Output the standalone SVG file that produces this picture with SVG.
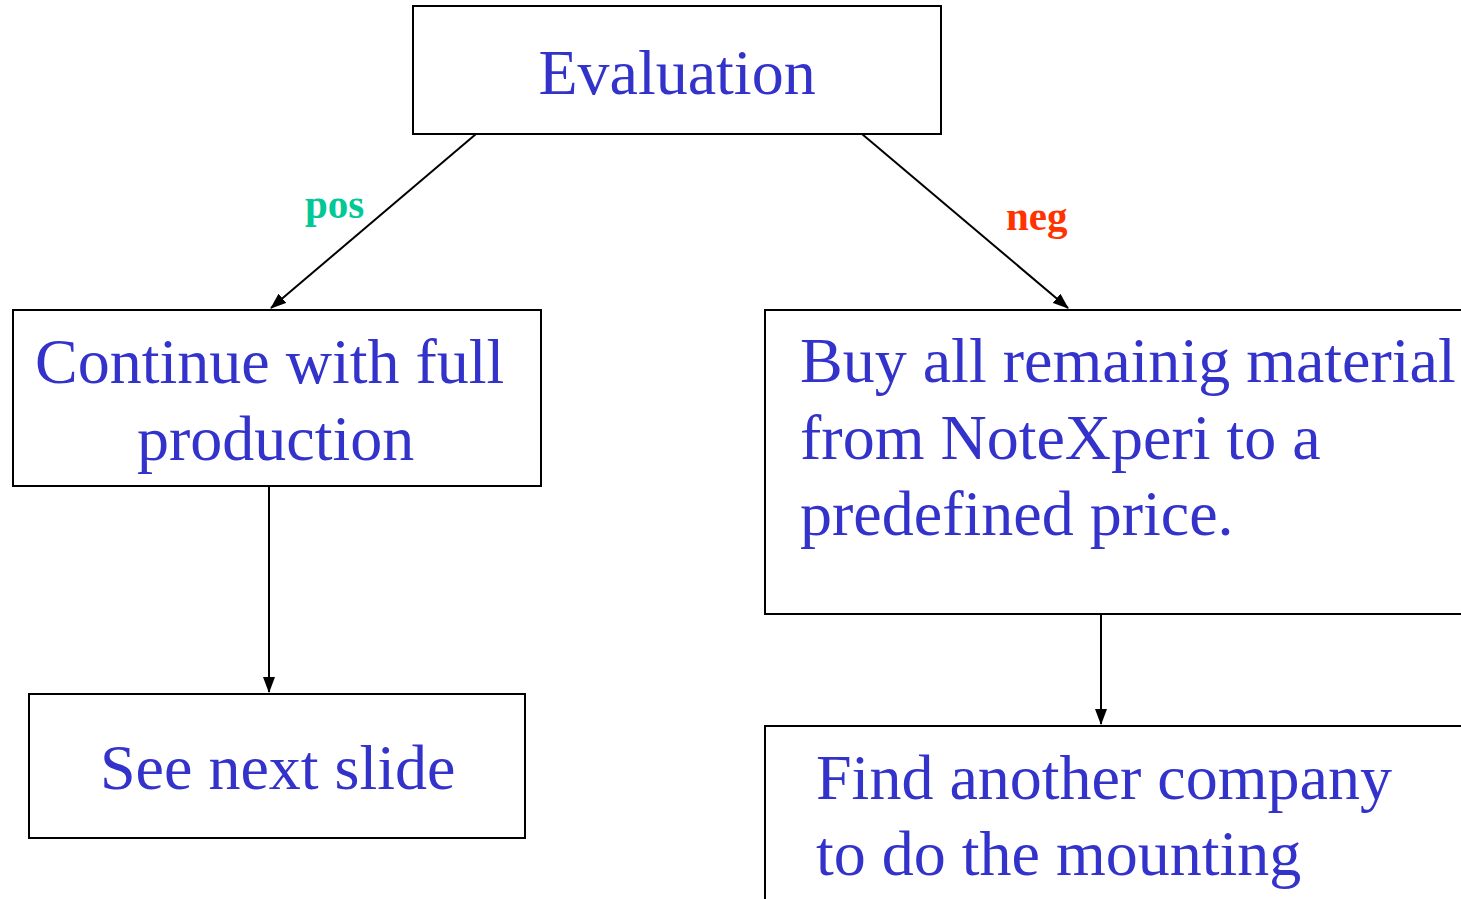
<svg xmlns="http://www.w3.org/2000/svg" width="1461" height="899" viewBox="0 0 1461 899">
<style>
.box{fill:#fff;stroke:#000;stroke-width:2}
.t{font-family:"Liberation Serif","Times New Roman",serif;font-size:64px;fill:#3333CC}
.lbl{font-family:"Liberation Serif","Times New Roman",serif;font-size:41px;font-weight:bold}
.c{stroke:#000;stroke-width:2;fill:none;marker-end:url(#ah)}
</style>
<defs>
<marker id="ah" markerWidth="16" markerHeight="12" refX="15" refY="6" orient="auto" markerUnits="userSpaceOnUse">
<path d="M0,0 L16,6 L0,12 Z" fill="#000"/>
</marker>
</defs>
<rect width="1461" height="899" fill="#fff"/>
<g id="connectors">
<line class="c" x1="476" y1="134" x2="271" y2="308"/>
<line class="c" x1="862" y1="134" x2="1068" y2="308"/>
<line class="c" x1="269" y1="486" x2="269" y2="692"/>
<line class="c" x1="1101" y1="614" x2="1101" y2="724"/>
<text class="lbl" x="305" y="218" fill="#00C896">pos</text>
<text class="lbl" x="1006" y="230" fill="#FF3300">neg</text>
</g>
<g id="evaluation">
<rect class="box" x="413" y="6" width="528" height="128"/>
<text class="t" x="677" y="94" text-anchor="middle">Evaluation</text>
</g>
<g id="continue">
<rect class="box" x="13" y="310" width="528" height="176"/>
<text class="t" x="35" y="383">Continue with full</text>
<text class="t" x="137" y="460">production</text>
</g>
<g id="seenext">
<rect class="box" x="29" y="694" width="496" height="144"/>
<text class="t" x="100" y="789">See next slide</text>
</g>
<g id="buy">
<rect class="box" x="765" y="310" width="720" height="304"/>
<text class="t" x="800" y="382">Buy all remainig material</text>
<text class="t" x="800" y="459">from NoteXperi to a</text>
<text class="t" x="800" y="535">predefined price.</text>
</g>
<g id="find">
<rect class="box" x="765" y="726" width="720" height="200"/>
<text class="t" x="816" y="799">Find another company</text>
<text class="t" x="816" y="875">to do the mounting</text>
</g>
</svg>
